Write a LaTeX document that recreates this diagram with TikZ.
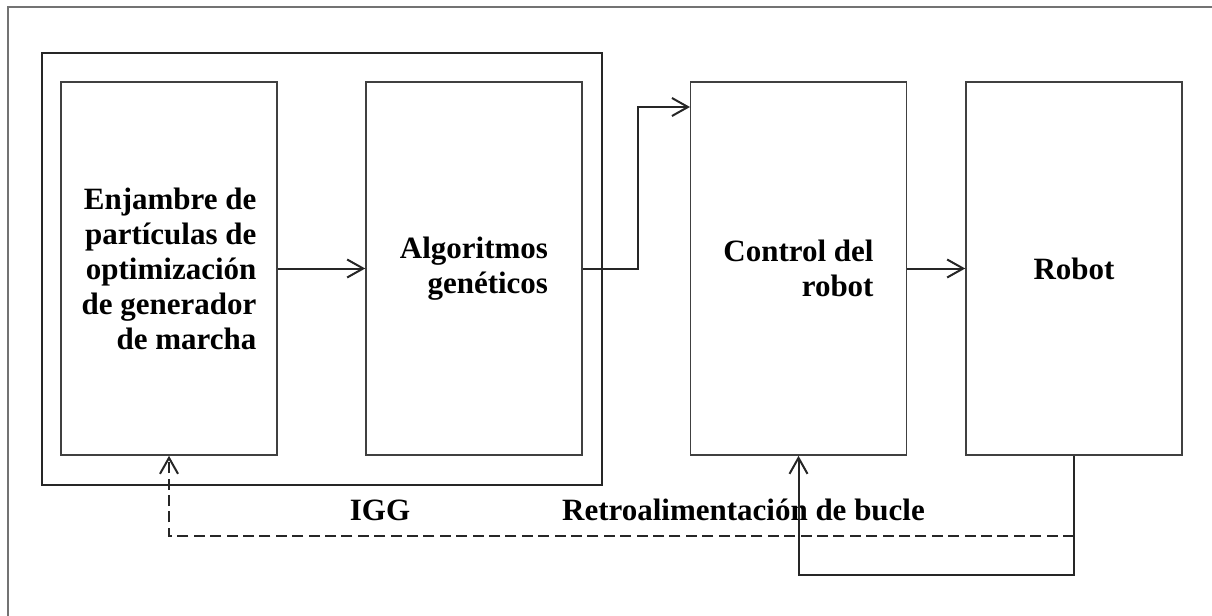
\documentclass[tikz,border=0pt]{standalone}
\usepackage{fontspec}
\setmainfont{Liberation Serif}
\usetikzlibrary{arrows.meta}

\begin{document}
\begin{tikzpicture}[x=0.5pt,y=-0.5pt,
  blk/.style={draw=black!75,line width=0.8pt,minimum width=108pt,minimum height=186.5pt,
    align=right,inner sep=0pt,font=\fontsize{15.5}{17.5}\selectfont\bfseries},
  arr/.style={draw=black!85,line width=1pt,-{Straight Barb[length=8pt,width=9pt]}},
  lbl/.style={anchor=base,font=\fontsize{15.5}{17.5}\selectfont\bfseries}]
\useasboundingbox (0,0) rectangle (1212,616);
\draw[black!55,line width=1pt] (8,616) |- (1212,7);
\draw[black!85,line width=1.1pt] (42,53) rectangle (602,485);
\node[blk] (enj) at (169,268.5) {Enjambre de\\partículas de\\optimización\\de generador\\de marcha};
\node[blk] (alg) at (474,268.5) {Algoritmos\\genéticos};
\node[blk] (ctrl) at (798.5,268.5) {Control del\\robot};
\node[blk] (robot) at (1074,268.5) {Robot};
\node[lbl] (igg) at (380,520) {IGG};
\node[lbl] (retro) at (743.5,520) {Retroalimentación de bucle};
\coordinate (ctrlin) at (690,107);
\path (robot.south) ++(0,80) coordinate (fb);
\draw[arr] (enj) -- (alg);
\draw[arr] (alg.east) -- ++(55,0) |- (ctrlin);
\draw[arr] (ctrl) -- (robot);
\draw[arr] (robot.south) -- ++(0,119) -| (ctrl.south);
\draw[arr,dash pattern=on 5.5pt off 2.7pt] (fb) -| (enj.south);
\end{tikzpicture}
\end{document}
